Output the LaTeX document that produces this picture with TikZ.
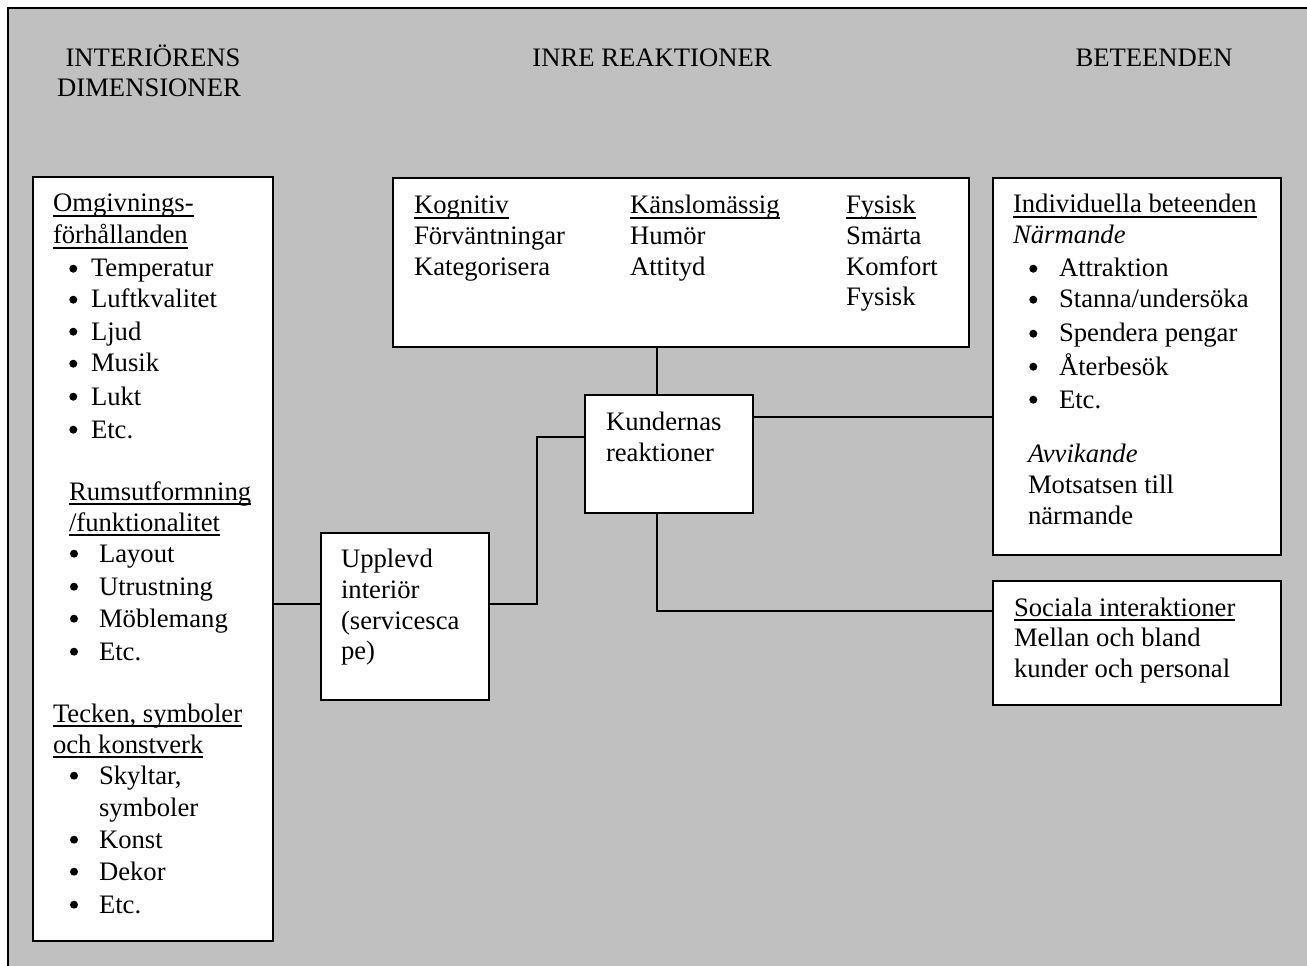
\documentclass[tikz,border=0pt]{standalone}
\usepackage{fontspec}
\setmainfont{Liberation Serif}
\definecolor{bg}{HTML}{C0C0C0}
\newcommand\ulx[1]{\setbox0=\hbox{#1}\rlap{\rule[-3.4pt]{\wd0}{0.8pt}}\box0}
% bullet item: name, dot x, text x, baseline y, text
\newcommand\bitem[5]{%
  \fill[black] (#2,#4-8.3) circle[radius=3pt];
  \node[txt] (#1) at (#3,#4) {#5};}
\tikzset{
  box/.style={draw=black, fill=white, line width=1.5pt, inner sep=0pt, outer sep=0pt},
  conn/.style={draw=black, line width=1.5pt},
  txt/.style={inner sep=0pt, outer sep=0pt, anchor=base west, font=\fontsize{20}{24}\selectfont},
  head/.style={inner sep=0pt, outer sep=0pt, anchor=base, font=\fontsize{20}{24}\selectfont},
}
\begin{document}
\begin{tikzpicture}[x=0.75pt,y=-0.75pt]
\useasboundingbox (0,0) rectangle (1307,966);
\fill[white] (0,0) rectangle (1307,966);
\fill[bg] (8,8) rectangle (1310,970);
\draw[line width=1.75pt] (8,970) -- (8,8) -- (1310,8);

% headers
\node[head] (h1) at (153,67) {INTERIÖRENS};
\node[head] (h2) at (149,97) {DIMENSIONER};
\node[head] (h3) at (652,67) {INRE REAKTIONER};
\node[head] (h4) at (1154,67) {BETEENDEN};

% boxes
\node[box, minimum width=180pt, minimum height=573pt] (L) at (153,559) {};
\node[box, minimum width=432pt, minimum height=126.75pt] (T) at (681,262.5) {};
\node[box, minimum width=126pt, minimum height=88.5pt] (K) at (669,454) {};
\node[box, minimum width=126pt, minimum height=125.25pt] (U) at (405,616.5) {};
\node[box, minimum width=216pt, minimum height=282.75pt] (R1) at (1137,366.5) {};
\node[box, minimum width=216pt, minimum height=93pt] (R2) at (1137,643) {};

% connector helper coordinates
\coordinate (yLU) at (0,604);
\coordinate (bend) at (537,437);
\coordinate (xK) at (657,0);
\coordinate (yKR) at (0,417);
\coordinate (yKS) at (0,611);

\draw[conn] (L.east |- yLU) -- (U.west |- yLU);
\draw[conn] (U.east |- yLU) -| (bend) -- (K.west |- bend);
\draw[conn] (K.north -| xK) -- (T.south -| xK);
\draw[conn] (K.east |- yKR) -- (R1.west |- yKR);
\draw[conn] (K.south -| xK) |- (R2.west |- yKS);

% left box text
\node[txt] (L1) at (53,212) {\ulx{Omgivnings-}};
\node[txt] (L2) at (53,244) {\ulx{förhållanden}};
\bitem{L3}{73.3}{91}{277}{Temperatur}
\bitem{L4}{73.3}{91}{308}{Luftkvalitet}
\bitem{L5}{73.3}{91}{340}{Ljud}
\bitem{L6}{73.3}{91}{372}{Musik}
\bitem{L7}{73.3}{91}{405}{Lukt}
\bitem{L8}{73.3}{91}{438}{Etc.}
\node[txt] (L9) at (69,500) {\ulx{Rumsutformning}};
\node[txt] (L10) at (69,531) {\ulx{/funktionalitet}};
\bitem{L11}{74}{99}{562}{Layout}
\bitem{L12}{74}{99}{595}{Utrustning}
\bitem{L13}{74}{99}{627}{Möblemang}
\bitem{L14}{74}{99}{660}{Etc.}
\node[txt] (L15) at (53,722) {\ulx{Tecken, symboler}};
\node[txt] (L16) at (53,753) {\ulx{och konstverk}};
\bitem{L17}{74}{99}{784}{Skyltar,}
\node[txt] (L18) at (99,816) {symboler};
\bitem{L19}{74}{99}{848}{Konst}
\bitem{L20}{74}{99}{880}{Dekor}
\bitem{L21}{74}{99}{913}{Etc.}

% top box text
\node[txt] (T1) at (414,214) {\ulx{Kognitiv}};
\node[txt] (T2) at (414,245) {Förväntningar};
\node[txt] (T3) at (414,276) {Kategorisera};
\node[txt] (T4) at (630,214) {\ulx{Känslomässig}};
\node[txt] (T5) at (630,245) {Humör};
\node[txt] (T6) at (630,276) {Attityd};
\node[txt] (T7) at (846,214) {\ulx{Fysisk}};
\node[txt] (T8) at (846,245) {Smärta};
\node[txt] (T9) at (846,276) {Komfort};
\node[txt] (T10) at (846,306) {Fysisk};

% Kundernas
\node[txt] (K1) at (606,430) {Kundernas};
\node[txt] (K2) at (606,461) {reaktioner};

% Upplevd
\node[txt] (U1) at (341,567) {Upplevd};
\node[txt] (U2) at (341,598) {interiör};
\node[txt] (U3) at (341,629) {(servicesca};
\node[txt] (U4) at (341,659) {pe)};

% right top box
\node[txt] (R1a) at (1013,213) {\ulx{Individuella beteenden}};
\node[txt] (R1b) at (1013,244) {\itshape Närmande};
\bitem{R1c}{1033.3}{1059}{277}{Attraktion}
\bitem{R1d}{1033.3}{1059}{308}{Stanna/undersöka}
\bitem{R1e}{1033.3}{1059}{342}{Spendera pengar}
\bitem{R1f}{1033.3}{1059}{375}{Återbesök}
\bitem{R1g}{1033.3}{1059}{408}{Etc.}
\node[txt] (R1h) at (1028,462) {\itshape Avvikande};
\node[txt] (R1i) at (1028,493) {Motsatsen till};
\node[txt] (R1j) at (1028,524) {närmande};

% right bottom box
\node[txt] (R2a) at (1014,616) {\ulx{Sociala interaktioner}};
\node[txt] (R2b) at (1014,646) {Mellan och bland};
\node[txt] (R2c) at (1014,677) {kunder och personal};
\end{tikzpicture}
\end{document}
